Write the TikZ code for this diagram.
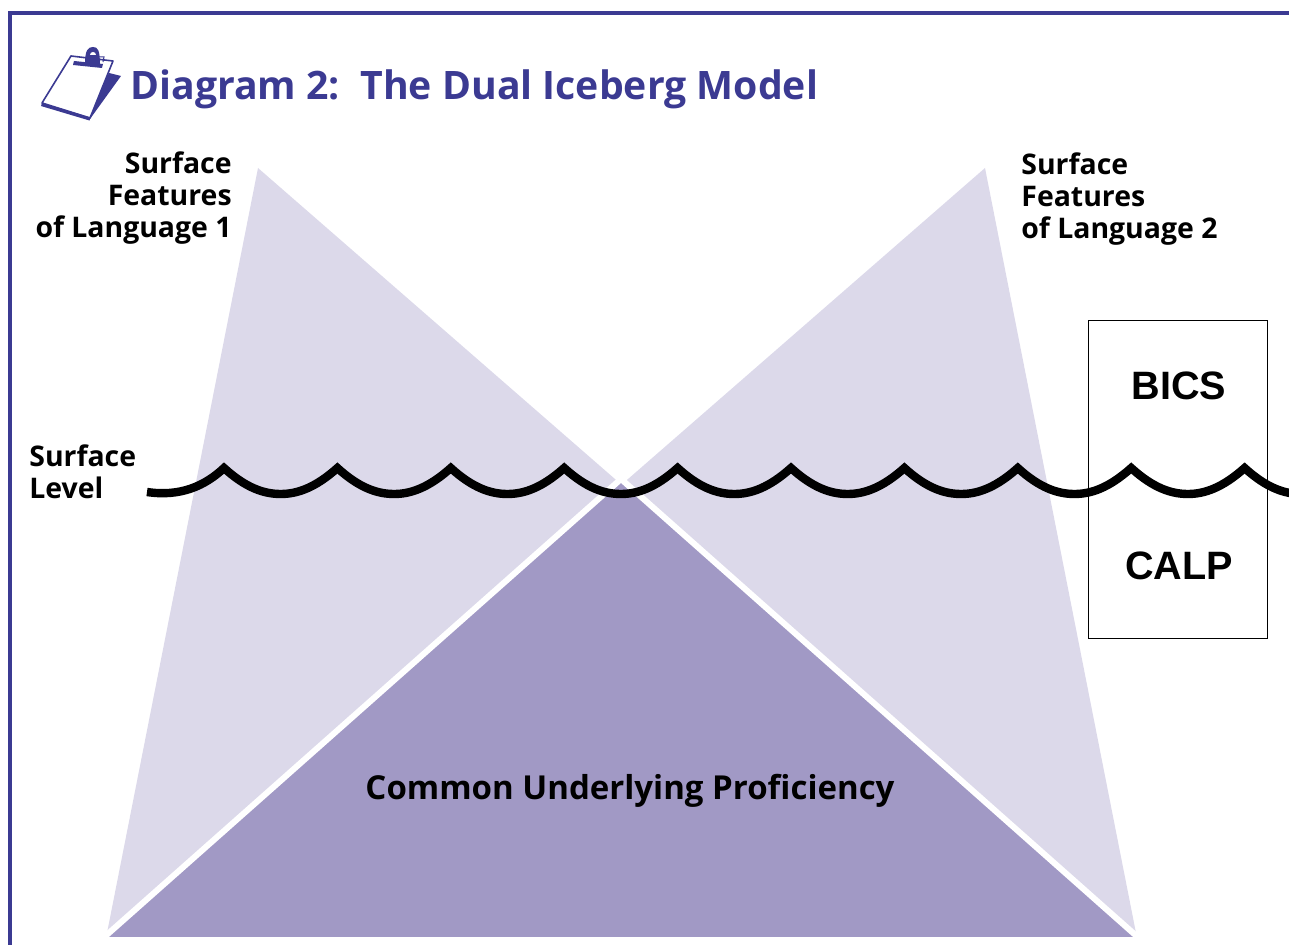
\documentclass[tikz,border=0pt]{standalone}
\usepackage{fontspec}
\setmainfont{Open Sans}
\newfontfamily\boxfont{Liberation Sans}
\usepackage{tikz}
\definecolor{framecol}{HTML}{3B3A92}
\definecolor{icelight}{HTML}{DCD9EA}
\definecolor{icedark}{HTML}{A199C5}
\tikzstyle{lbl} = [font=\fontsize{14.2}{16}\selectfont\bfseries, inner sep=0pt, text=black]
\tikzstyle{boxlbl} = [font=\fontsize{19.8}{22}\selectfont\boxfont\bfseries, inner sep=0pt]
\tikzstyle{iceberg} = [fill=icelight, draw=none]
\tikzstyle{wave} = [draw, line width=4.2pt, miter limit=10]
\tikzstyle{frame} = [draw=framecol, line width=1.7pt]

\begin{document}
\begin{tikzpicture} [x=0.5pt, y=-0.5pt]

        \useasboundingbox (0,0) rectangle (1289,945);
        \clip (0,0) rectangle (1289,945);

        \draw[frame] (10,945) -- (10,13) -- (1289,13);

        % clipboard
        \fill[framecol] (109,73) -- (121,76) -- (90,119) -- (84,117) -- cycle;
        \draw[framecol, fill=white, line width=0.8pt, line join=round] (71,56) -- (113,61) -- (90,118) -- (42,103) -- cycle;
        \draw[framecol, line width=1.6pt] (41.5,104.5) -- (90,119);
        \fill[framecol] (85,64) .. controls (85,50) and (88,47) .. (93,47) .. controls (98,47) and (100,50) .. (100,66) -- cycle;
        \fill[white] (90,55) .. controls (90,51) and (96,51) .. (96,55) -- cycle;
        \draw[framecol, line width=0.5pt] (99,57) -- (104,57) -- (103,62);
        \fill[framecol] (74,61) -- (103,64) -- (102,68) -- (73,65) -- cycle;

        \node[anchor=west, font=\fontsize{19.6}{22}\selectfont\bfseries, text=framecol, inner sep=0pt] (title) at (130,89) {Diagram 2:\ \ The Dual Iceberg Model};

        % icebergs
        \path[iceberg] (258,168) -- (107,933) -- (1136,933) -- cycle;
        \path[iceberg] (985,168) -- (1136,933) -- (107,933) -- cycle;
        \draw[draw=white, line width=3pt, fill=icedark] (621,479) -- (101,940) -- (1141,940) -- cycle;
        \fill[white] (90,937) rectangle (1160,945);

        \node[lbl, align=right, anchor=north east] (surfL) at (232,151) {Surface\\Features\\of Language 1};
        \node[lbl, align=left, anchor=north west] (surfR) at (1021,152) {Surface\\Features\\of Language 2};
        \node[lbl, align=left, anchor=north west] (level) at (29,444) {Surface\\Level};
        \node[font=\fontsize{16.5}{20}\selectfont\bfseries, inner sep=0pt] (cup) at (630,791) {Common Underlying Proficiency};

        % box
        \node[draw, line width=0.5pt, minimum width=89.5pt, minimum height=158.5pt, inner sep=0pt] (bc) at (1177.5,479.5) {};
        \node[boxlbl] (bics) at (1179,386) {BICS};
        \node[boxlbl] (calp) at (1179,566) {CALP};

        % water
        \draw[wave] (147,492) .. controls (180,497) and (205,486) .. (224,468)
          foreach \x in {224,337.4,450.8,564.2,677.6,791,904.4,1017.8,1131.2,1244.6} {
            .. controls (\x+22,488) and (\x+40,494) .. (\x+56.7,494)
            .. controls (\x+73,494) and (\x+91,488) .. (\x+113.4,468)
          };

\end{tikzpicture}
\end{document}
